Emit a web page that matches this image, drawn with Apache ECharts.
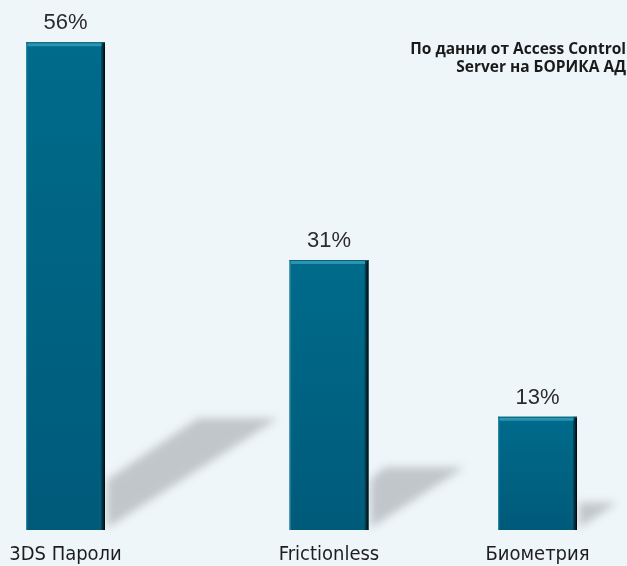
<!DOCTYPE html>
<html>
<head>
<meta charset="utf-8">
<script src="https://cdn.jsdelivr.net/npm/echarts@6/dist/echarts.min.js"></script>
<style>
html,body{margin:0;padding:0;background:#eef6f9;}
#chart{width:627px;height:566px;}
</style>
</head>
<body>
<div id="chart"></div>
<script>
const categories = ['3DS Пароли', 'Frictionless', 'Биометрия'];
const values = [56, 31, 13];
const valueLabels = ['56%', '31%', '13%'];
const sourceLines = ['По данни от Access Control', 'Server на БОРИКА АД'];

const centers = [65.5, 329, 537.5];
const slotW = 120;
const barW = 79;

const chart = echarts.init(document.getElementById('chart'));

function renderDecor(params, api) {
  const top = api.coord([api.value(0), api.value(1)]);
  const base = api.coord([api.value(0), 0]);
  const half = barW / 2;
  const xl = base[0] - half, xr = base[0] + half;
  const h = base[1] - top[1];
  const dx = 0.355 * h, dy = 0.225 * h;
  const t = Math.min(48, 0.2 * h);
  const x2 = xr + Math.max(0, dx - 80);
  const yb = base[1] - 2;
  const OFF = 3000;
  return {
    type: 'group',
    children: [
      {
        type: 'polygon',
        x: -OFF,
        shape: { points: [[xr + 2, yb], [xr + 2, yb - t], [x2, yb - dy], [xr + dx, yb - dy]] },
        style: {
          fill: '#000',
          shadowBlur: 9,
          shadowOffsetX: OFF,
          shadowColor: 'rgba(150,154,157,0.52)'
        }
      },
      { type: 'rect', shape: { x: xl, y: top[1], width: 1.2, height: h }, style: { fill: '#2a87a2' } },
      {
        type: 'rect', shape: { x: xr - 4, y: top[1], width: 4, height: h },
        style: {
          fill: new echarts.graphic.LinearGradient(0, 0, 1, 0, [
            { offset: 0, color: 'rgba(0,60,80,0.6)' },
            { offset: 1, color: '#000' }
          ])
        }
      },
      { type: 'rect', shape: { x: xl, y: top[1], width: barW, height: 1 }, style: { fill: '#0b5f78' } },
      { type: 'rect', shape: { x: xl + 1.5, y: top[1] + 1, width: barW - 5, height: 3 }, style: { fill: '#2a95b1' } }
    ]
  };
}

const grid = [], xAxis = [], yAxis = [], series = [];
categories.forEach((c, i) => {
  grid.push({ left: centers[i] - slotW / 2, width: slotW, top: 7.4, bottom: 36 });
  xAxis.push({
    type: 'category', gridIndex: i, data: [c],
    axisLine: { show: false }, axisTick: { show: false },
    axisLabel: {
      margin: 15, fontSize: 20, color: '#1e1e1e',
      fontFamily: '"Liberation Sans Narrow", "DejaVu Sans Condensed", "Liberation Sans", sans-serif'
    }
  });
  yAxis.push({ type: 'value', gridIndex: i, min: 0, max: 60, show: false });
  series.push({
    type: 'bar', xAxisIndex: i, yAxisIndex: i, barWidth: barW,
    data: [values[i]],
    itemStyle: {
      color: new echarts.graphic.LinearGradient(0, 0, 0, 1, [
        { offset: 0, color: '#006b8b' },
        { offset: 1, color: '#005a7a' }
      ])
    },
    label: {
      show: true, position: 'top', distance: 8,
      formatter: () => valueLabels[i],
      fontSize: 22, color: '#2b2b2b', fontFamily: '"Liberation Sans", Arial, sans-serif'
    },
    silent: true
  });
  series.push({
    type: 'custom', xAxisIndex: i, yAxisIndex: i,
    data: [[0, values[i]]],
    renderItem: renderDecor,
    clip: false, silent: true, z: 3
  });
});

chart.setOption({
  backgroundColor: '#eef6f9',
  animation: false,
  grid, xAxis, yAxis, series,
  graphic: [{
    type: 'text', x: 626, y: 41,
    style: {
      text: sourceLines.join('\n'),
      align: 'right', verticalAlign: 'top',
      fontSize: 15.5, lineHeight: 18, fontWeight: 'bold',
      fill: '#1a1a1a',
      fontFamily: '"Open Sans", "Noto Sans", sans-serif'
    }
  }]
});
</script>
</body>
</html>
